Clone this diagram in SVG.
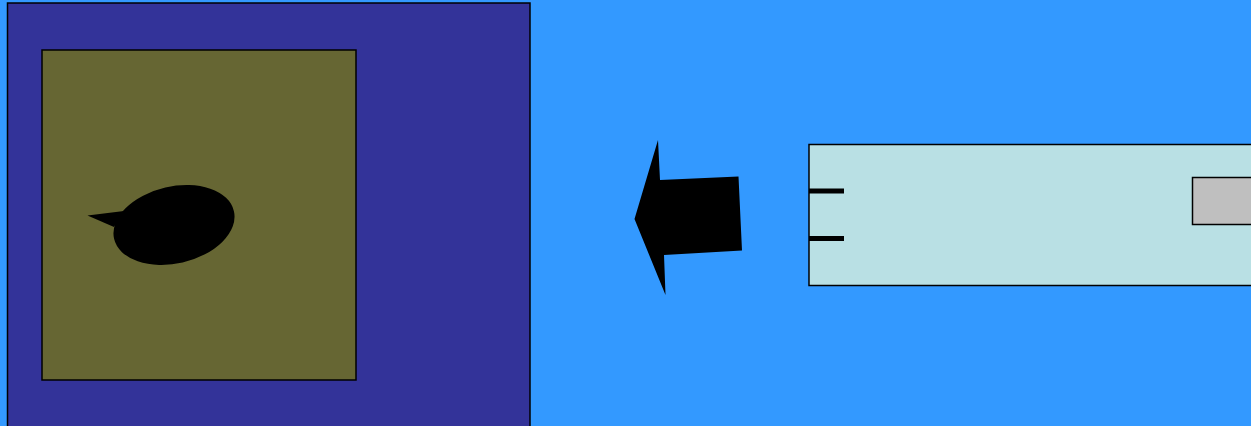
<svg xmlns="http://www.w3.org/2000/svg" width="1251" height="426" viewBox="0 0 1251 426">
  <style>
    .edge { stroke: #000; stroke-width: 1.5; }
    .stub { stroke: #000; stroke-width: 5; }
  </style>
  <rect x="0" y="0" width="1251" height="426" fill="#3399ff"/>

  <g id="frame">
    <rect class="edge" x="7.5" y="3" width="522.5" height="430" fill="#333399"/>
  </g>

  <g id="panel">
    <rect class="edge" x="42" y="50" width="314" height="330" fill="#666633"/>
    <!-- speech bubble -->
    <g fill="#000">
      <ellipse cx="174" cy="225" rx="61.5" ry="38.5" transform="rotate(-13 174 225)"/>
      <polygon points="87.5,215.5 124,211 114,227"/>
    </g>
  </g>

  <g id="connectors">
    <polygon fill="#000" points="658,140 660,180 738.5,176.5 742,250.5 664,255 665.5,295 634.5,219"/>
  </g>

  <g id="device">
    <rect class="edge" x="809" y="144.5" width="450" height="141" fill="#b9e0e4"/>
    <line class="stub" x1="809" y1="191" x2="844" y2="191"/>
    <line class="stub" x1="809" y1="238.5" x2="844" y2="238.5"/>
    <rect class="edge" x="1192.5" y="177.5" width="70" height="47" fill="#bfbfbf"/>
  </g>
</svg>
